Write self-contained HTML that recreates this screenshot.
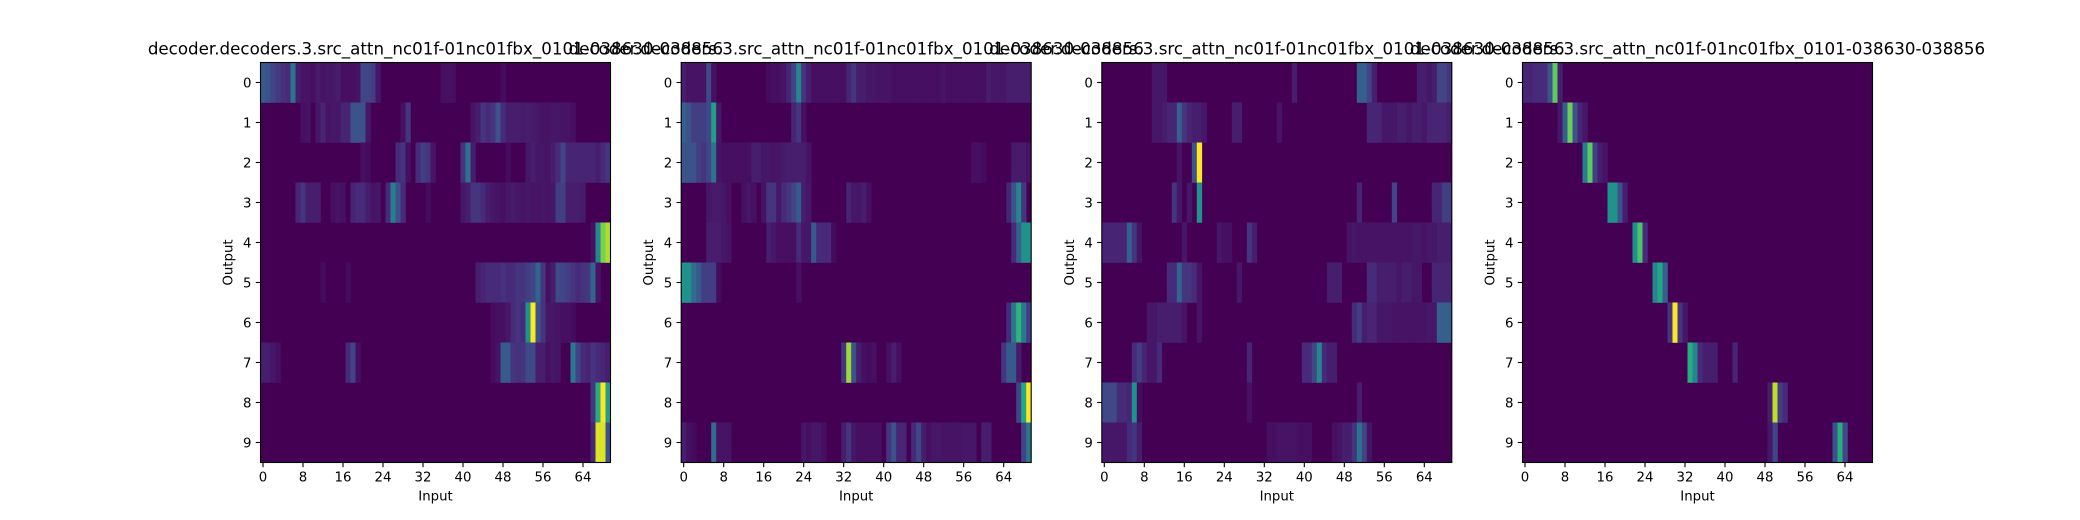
<!DOCTYPE html>
<html><head><meta charset="utf-8"><style>
html,body{margin:0;padding:0;background:#fff;}
svg{display:block;font-family:"DejaVu Sans","Liberation Sans",sans-serif;}
</style></head><body>
<svg id="fig" width="2080" height="520" viewBox="0 0 2080 520"></svg>
<script>
const titleText = "decoder.decoders.3.src_attn_nc01f-01nc01fbx_0101-038630-038856";
const xTicks = [0,8,16,24,32,40,48,56,64];
const yTicks = [0,1,2,3,4,5,6,7,8,9];
const nCols = 70;
const nRows = 10;
// sparse attention weights per panel: per row, [col, value]; unlisted cells ~0
const panel1 = [
 [[0,.28],[1,.25],[2,.2],[3,.17],[4,.14],[5,.12],[6,.38],[7,.08],[8,.05],[9,.05],[10,.04],[11,.07],[12,.05],[13,.06],[14,.06],[15,.08],[16,.04],[17,.04],[18,.04],[19,.05],[20,.2],[21,.2],[22,.18],[23,.06],[36,.04],[37,.04],[38,.04],[48,.03]],
 [[8,.04],[9,.05],[11,.06],[12,.1],[13,.05],[14,.06],[15,.06],[16,.1],[17,.1],[18,.25],[19,.25],[20,.25],[21,.06],[28,.04],[29,.15],[42,.05],[43,.08],[44,.15],[45,.12],[46,.15],[47,.25],[48,.12],[49,.08],[50,.08],[51,.08],[52,.07],[53,.08],[54,.07],[55,.06],[56,.05],[57,.05],[58,.06],[59,.06],[60,.05],[61,.05],[62,.04]],
 [[20,.04],[21,.03],[27,.12],[28,.15],[29,.04],[31,.12],[32,.18],[33,.15],[34,.05],[40,.15],[41,.38],[42,.08],[49,.03],[53,.06],[54,.08],[55,.06],[56,.06],[57,.05],[58,.08],[59,.12],[60,.2],[61,.1],[62,.1],[63,.1],[64,.1],[65,.1],[66,.1],[67,.08],[68,.12],[69,.15]],
 [[7,.1],[8,.15],[9,.08],[10,.08],[11,.08],[14,.04],[15,.05],[16,.04],[18,.1],[19,.12],[20,.12],[21,.08],[22,.05],[23,.06],[25,.12],[26,.42],[27,.25],[28,.12],[33,.03],[40,.06],[41,.08],[42,.15],[43,.15],[44,.12],[45,.08],[46,.06],[47,.05],[48,.04],[49,.06],[50,.07],[51,.06],[52,.05],[53,.06],[54,.05],[55,.05],[56,.06],[57,.05],[58,.06],[59,.18],[60,.18],[61,.08],[62,.08],[63,.08],[64,.07]],
 [[66,.04],[67,.45],[68,.8],[69,.88]],
 [[12,.03],[17,.03],[43,.08],[44,.1],[45,.12],[46,.12],[47,.12],[48,.14],[49,.12],[50,.12],[51,.15],[52,.15],[53,.18],[54,.2],[55,.32],[56,.15],[57,.04],[58,.08],[59,.22],[60,.2],[61,.18],[62,.15],[63,.12],[64,.14],[65,.16],[66,.32],[67,.05]],
 [[46,.03],[47,.04],[48,.04],[49,.06],[50,.12],[51,.15],[52,.12],[53,.5],[54,1.0],[55,.25],[56,.15],[57,.06],[58,.06],[59,.05],[60,.04],[61,.04],[62,.03]],
 [[0,.08],[1,.08],[2,.06],[3,.04],[17,.12],[18,.2],[19,.04],[46,.03],[47,.05],[48,.28],[49,.28],[50,.15],[51,.14],[52,.15],[53,.22],[54,.22],[55,.08],[56,.08],[57,.04],[58,.06],[59,.05],[62,.4],[63,.2],[64,.12],[65,.1],[66,.15],[67,.12],[68,.1],[69,.08]],
 [[66,.15],[67,.62],[68,1.0],[69,.55]],
 [[66,.1],[67,.95],[68,.95],[69,.25]]
];
const panel2 = [
 [[0,.08],[1,.05],[2,.05],[3,.05],[4,.05],[5,.22],[6,.04],[17,.03],[18,.04],[19,.04],[20,.05],[21,.1],[22,.2],[23,.45],[24,.15],[25,.08],[26,.04],[27,.04],[28,.04],[29,.04],[30,.04],[31,.04],[32,.04],[33,.1],[34,.15],[35,.08],[36,.08],[37,.06],[38,.06],[39,.05],[40,.05],[41,.05],[42,.04],[43,.04],[44,.04],[45,.04],[46,.04],[47,.04],[48,.04],[49,.04],[50,.04],[51,.04],[52,.05],[53,.04],[54,.04],[55,.04],[56,.04],[57,.04],[58,.04],[59,.04],[60,.04],[61,.08],[62,.06],[63,.06],[64,.06],[65,.08],[66,.08],[67,.08],[68,.08],[69,.08]],
 [[0,.3],[1,.25],[2,.18],[3,.18],[4,.18],[5,.22],[6,.55],[7,.06],[22,.1],[23,.15],[24,.04]],
 [[0,.25],[1,.25],[2,.25],[3,.18],[4,.15],[5,.2],[6,.38],[7,.05],[8,.04],[9,.04],[10,.04],[11,.04],[12,.04],[13,.04],[14,.08],[15,.08],[16,.06],[17,.06],[18,.05],[19,.06],[20,.07],[21,.08],[22,.08],[23,.08],[24,.08],[25,.05],[58,.04],[59,.04],[60,.03],[66,.07],[67,.07],[68,.07],[69,.05]],
 [[5,.06],[6,.07],[7,.07],[8,.06],[9,.04],[12,.04],[13,.06],[14,.04],[16,.05],[17,.15],[18,.15],[19,.06],[20,.12],[21,.15],[22,.2],[23,.28],[24,.08],[25,.06],[33,.1],[34,.06],[35,.06],[36,.08],[37,.04],[65,.1],[66,.25],[67,.45],[68,.15]],
 [[5,.08],[6,.08],[7,.08],[8,.06],[9,.05],[17,.08],[18,.06],[19,.04],[20,.04],[21,.04],[22,.04],[23,.12],[24,.06],[25,.06],[26,.28],[27,.12],[28,.12],[29,.12],[30,.03],[66,.12],[67,.3],[68,.5],[69,.5]],
 [[0,.5],[1,.5],[2,.35],[3,.28],[4,.18],[5,.18],[6,.18],[7,.03],[23,.04]],
 [[65,.12],[66,.4],[67,.65],[68,.4],[69,.18]],
 [[32,.15],[33,.85],[34,.25],[35,.08],[36,.04],[37,.03],[38,.04],[41,.04],[42,.08],[43,.04],[64,.15],[65,.28],[66,.28],[67,.07]],
 [[67,.2],[68,.6],[69,1.0]],
 [[0,.08],[1,.04],[2,.03],[6,.35],[7,.05],[8,.05],[9,.05],[24,.06],[25,.04],[26,.06],[27,.06],[28,.04],[32,.08],[33,.15],[34,.06],[35,.04],[36,.04],[37,.04],[38,.04],[39,.04],[41,.15],[42,.25],[43,.1],[44,.1],[46,.12],[47,.22],[48,.08],[49,.04],[50,.06],[51,.06],[52,.05],[53,.05],[54,.05],[55,.05],[56,.06],[57,.06],[58,.06],[60,.08],[61,.08],[68,.2],[69,.4]]
];
const panel3 = [
 [[10,.06],[11,.06],[12,.06],[38,.08],[51,.3],[52,.3],[53,.2],[54,.08],[63,.08],[64,.08],[65,.06],[66,.08],[67,.2],[68,.2],[69,.15]],
 [[10,.06],[11,.06],[12,.08],[13,.1],[14,.1],[15,.3],[16,.15],[17,.1],[18,.08],[19,.08],[20,.06],[26,.08],[27,.08],[35,.05],[53,.1],[54,.1],[55,.1],[56,.06],[57,.06],[58,.06],[59,.08],[60,.08],[61,.06],[62,.08],[63,.08],[64,.06],[65,.1],[66,.1],[67,.1],[68,.1],[69,.08]],
 [[15,.05],[18,.25],[19,1.0]],
 [[14,.15],[15,.06],[17,.06],[19,.5],[51,.1],[58,.2],[66,.1],[67,.1],[68,.18],[69,.18]],
 [[0,.1],[1,.1],[2,.1],[3,.1],[4,.1],[5,.3],[6,.15],[7,.05],[16,.06],[23,.06],[24,.04],[25,.04],[29,.15],[30,.08],[49,.05],[50,.06],[51,.05],[52,.05],[53,.05],[54,.05],[55,.05],[56,.05],[57,.05],[58,.05],[59,.05],[60,.05],[61,.05],[62,.06],[63,.06],[64,.05],[65,.06],[66,.06],[67,.08],[68,.08],[69,.08]],
 [[13,.12],[14,.12],[15,.32],[16,.15],[17,.15],[18,.12],[19,.05],[27,.06],[45,.08],[46,.08],[47,.08],[53,.12],[54,.12],[55,.08],[56,.08],[57,.08],[58,.08],[59,.06],[60,.08],[61,.08],[62,.06],[63,.06],[66,.1],[67,.1],[68,.1],[69,.1]],
 [[9,.06],[10,.06],[11,.08],[12,.08],[13,.08],[14,.08],[15,.08],[16,.05],[19,.05],[50,.12],[51,.18],[52,.08],[53,.1],[54,.1],[55,.06],[56,.06],[57,.06],[58,.05],[59,.05],[60,.05],[61,.05],[62,.05],[63,.05],[64,.05],[65,.06],[66,.06],[67,.3],[68,.3],[69,.3]],
 [[6,.12],[7,.18],[8,.1],[9,.06],[10,.06],[11,.12],[29,.1],[40,.12],[41,.12],[42,.22],[43,.45],[44,.12],[45,.08],[46,.08]],
 [[0,.22],[1,.22],[2,.22],[3,.12],[4,.12],[5,.1],[6,.5],[7,.03],[29,.04],[51,.08]],
 [[0,.06],[1,.06],[2,.06],[3,.06],[4,.06],[5,.12],[6,.15],[7,.08],[33,.04],[34,.04],[35,.05],[36,.05],[37,.05],[38,.05],[39,.04],[40,.04],[41,.04],[46,.04],[47,.05],[48,.08],[49,.08],[50,.15],[51,.38],[52,.2],[53,.05]]
];
const panel4 = [
 [[0,.1],[1,.1],[2,.12],[3,.12],[4,.12],[5,.25],[6,.75],[7,.08]],
 [[7,.06],[8,.3],[9,.78],[10,.25],[11,.1],[12,.06]],
 [[12,.42],[13,.75],[14,.18],[15,.08],[16,.05]],
 [[17,.5],[18,.5],[19,.25],[20,.08]],
 [[22,.5],[23,.72],[24,.12]],
 [[26,.45],[27,.6],[28,.3]],
 [[29,.15],[30,1.0],[31,.15],[32,.06]],
 [[33,.62],[34,.45],[35,.12],[36,.08],[37,.08],[38,.08],[42,.1]],
 [[49,.08],[50,.9],[51,.18],[52,.12]],
 [[49,.06],[50,.2],[62,.25],[63,.62],[64,.22]]
];
const panels = [panel1, panel2, panel3, panel4];

const viridis = ["#440154","#482475","#414487","#355f8d","#2a788e","#21918c","#22a884","#44bf70","#7ad151","#bddf26","#fde725"];
function hex(c){return [parseInt(c.slice(1,3),16),parseInt(c.slice(3,5),16),parseInt(c.slice(5,7),16)];}
function cmap(v){
  v=Math.max(0,Math.min(1,v))*10; const i=Math.min(9,Math.floor(v)); const t=v-i;
  const a=hex(viridis[i]), b=hex(viridis[i+1]);
  return "rgb("+a.map((x,k)=>Math.round(x+(b[k]-x)*t)).join(",")+")";
}
const NS="http://www.w3.org/2000/svg";
const svg=document.getElementById('fig');
function mk(tag,attrs,parent){const e=document.createElementNS(NS,tag);for(const k in attrs)e.setAttribute(k,attrs[k]);(parent||svg).appendChild(e);return e;}

const lefts=[260.5,681.2,1101.8,1522.5];
const plotTop=62.5, W=350, H=400;
panels.forEach((data,p)=>{
  const L=lefts[p];
  const xs=c=>L+(c+0.5)*W/nCols;
  const ys=r=>plotTop+(r+0.5)*H/nRows;
  const g=mk('g',{});
  
  
  const bg=mk('rect',{x:L,y:plotTop,width:W,height:H,fill:cmap(0)},g);
  
  
  data.forEach((row,r)=>{
    row.forEach(([c,v])=>{
      const cell=mk('rect',{x:(xs(c)-W/nCols/2).toFixed(2),y:(ys(r)-H/nRows/2).toFixed(2),width:(W/nCols+0.3).toFixed(2),height:(H/nRows+0.3).toFixed(2),fill:cmap(v)},g);
      
      
    });
  });
  const fr=mk('rect',{x:L,y:plotTop,width:W,height:H,fill:'none',stroke:'#000','stroke-width':1.1},g);
  
  
  xTicks.forEach(t=>{
    const x=xs(t);
    const tk=mk('line',{x1:x,x2:x,y1:plotTop+H,y2:plotTop+H+4.7,stroke:'#000','stroke-width':1.1},g);
    
    
    const lb=mk('text',{x:x,y:plotTop+H+19,'font-size':13.3,'text-anchor':'middle',fill:'#000'},g);
    lb.textContent=t;
    
    
  });
  yTicks.forEach(t=>{
    const y=ys(t);
    const tk=mk('line',{x1:L-4.7,x2:L,y1:y,y2:y,stroke:'#000','stroke-width':1.1},g);
    
    
    const lb=mk('text',{x:L-9,y:y+4.8,'font-size':13.3,'text-anchor':'end',fill:'#000'},g);
    lb.textContent=t;
    
    
  });
  const xl=mk('text',{x:L+W/2,y:plotTop+H+38,'font-size':13.3,'text-anchor':'middle',fill:'#000'},g);
  xl.textContent='Input';
  
  
  const yl=mk('text',{x:0,y:0,'font-size':13.3,'text-anchor':'middle',fill:'#000',transform:'translate('+(L-28)+','+(plotTop+H/2)+') rotate(-90)'},g);
  yl.textContent='Output';
  
  
  const tt=mk('text',{x:L+W/2,y:plotTop-8,'font-size':16.7,'text-anchor':'middle',fill:'#000'},g);
  tt.textContent=titleText;
  
  
});
</script>
</body></html>
